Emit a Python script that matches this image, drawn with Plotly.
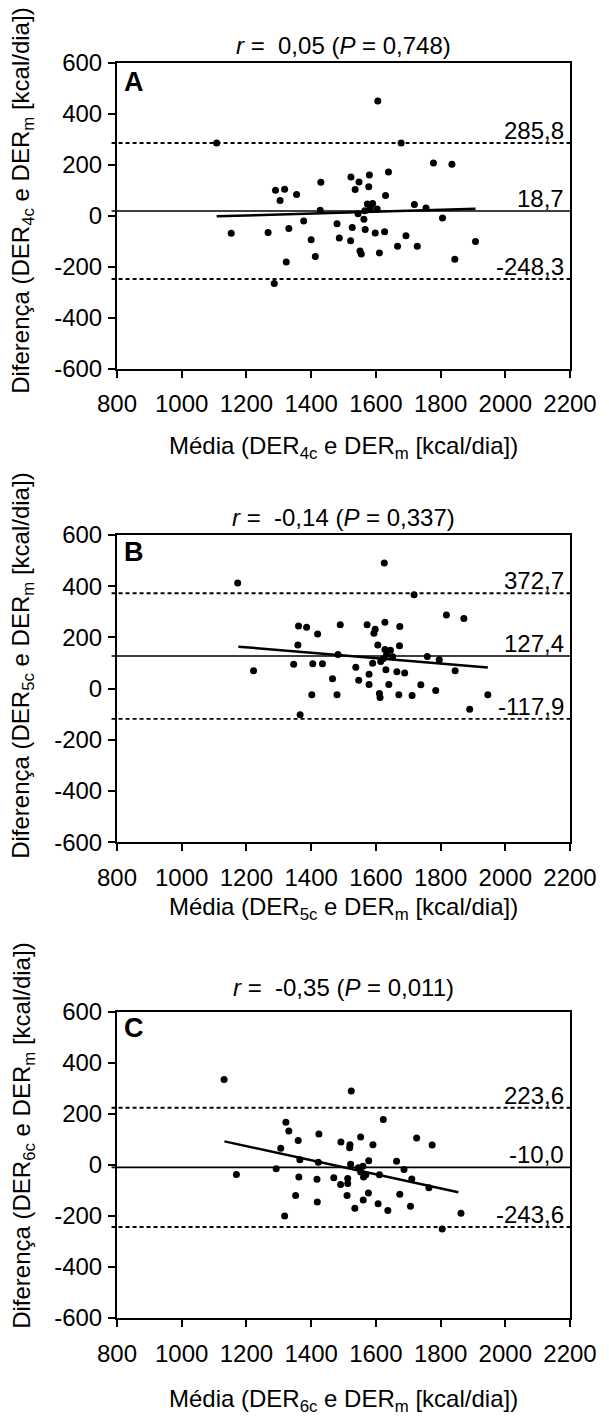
import plotly.graph_objects as go
from plotly.subplots import make_subplots

# ---- Panel A: DER4c vs DERm ----
mean_a = [1606, 1108, 1678, 1778, 1835, 1639, 1523, 1580, 1548, 1430, 1578, 1536, 1290,
          1318, 1355, 1304, 1630, 1574, 1590, 1604, 1583, 1719, 1755, 1428, 1566, 1545,
          1806, 1563, 1377, 1480, 1527, 1331, 1567, 1153, 1267, 1598, 1627, 1693, 1400,
          1487, 1522, 1908, 1667, 1728, 1551, 1555, 1611, 1413, 1323, 1844, 1286]
diff_a = [451, 286, 286, 207, 202, 172, 152, 160, 133, 132, 114, 103, 100,
          104, 84, 60, 80, 46, 48, 27, 31, 44, 31, 22, 20, 8,
          -9, -14, -20, -31, -46, -50, -54, -69, -66, -68, -63, -78, -94,
          -87, -98, -101, -120, -120, -138, -150, -146, -160, -181, -171, -266]
fit_a_x = [1108, 1908]
fit_a_y = [-2, 28]
bias_a = 18.7
loa_a = [285.8, -248.3]
r_a, p_a = "0,05", "0,748"

# ---- Panel B: DER5c vs DERm ----
mean_b = [1626, 1173, 1718, 1818, 1872, 1628, 1361, 1386, 1490, 1573, 1598, 1594, 1674,
          1420, 1359, 1606, 1673, 1628, 1645, 1633, 1652, 1483, 1759, 1796, 1622, 1615,
          1590, 1346, 1405, 1435, 1538, 1631, 1222, 1665, 1689, 1845, 1579, 1466, 1547,
          1579, 1640, 1739, 1785, 1402, 1480, 1611, 1613, 1671, 1712, 1946, 1890, 1366]
diff_b = [491, 413, 367, 288, 274, 259, 245, 240, 250, 250, 232, 216, 243,
          213, 170, 170, 168, 153, 150, 133, 125, 133, 126, 113, 117, 106,
          99, 95, 97, 97, 84, 74, 70, 66, 61, 70, 56, 39, 33,
          16, 16, 15, -7, -24, -24, -19, -35, -24, -27, -24, -80, -102]
fit_b_x = [1175, 1946]
fit_b_y = [164, 83]
bias_b = 127.4
loa_b = [372.7, -117.9]
r_b, p_b = "-0,14", "0,337"

# ---- Panel C: DER6c vs DERm ----
mean_c = [1131, 1524, 1623, 1322, 1331, 1424, 1360, 1492, 1553, 1520, 1519, 1591, 1726,
          1774, 1306, 1365, 1422, 1522, 1578, 1664, 1292, 1169, 1687, 1546, 1560, 1553,
          1569, 1562, 1611, 1362, 1418, 1470, 1513, 1711, 1491, 1513, 1764, 1352, 1511,
          1577, 1674, 1419, 1561, 1607, 1535, 1637, 1707, 1318, 1863, 1805]
diff_c = [334, 289, 178, 167, 133, 121, 95, 90, 109, 79, 67, 79, 105,
          78, 65, 20, 10, 2, 16, 14, -15, -38, -18, -11, -5, -28,
          -39, -48, -39, -48, -56, -51, -53, -55, -77, -73, -90, -120, -120,
          -110, -115, -146, -138, -152, -170, -179, -162, -200, -190, -251]
fit_c_x = [1132, 1855]
fit_c_y = [92, -107]
bias_c = -10.0
loa_c = [223.6, -243.6]
r_c, p_c = "-0,35", "0,011"

panel_letters = ["A", "B", "C"]
method_subs = ["4c", "5c", "6c"]
x_ticks = [800, 1000, 1200, 1400, 1600, 1800, 2000, 2200]
y_ticks = [600, 400, 200, 0, -200, -400, -600]
y_tick_text = ["600", "400", "200", "0", "-200", "-400", "-600"]

panels = [
    (mean_a, diff_a, fit_a_x, fit_a_y, bias_a, loa_a, r_a, p_a),
    (mean_b, diff_b, fit_b_x, fit_b_y, bias_b, loa_b, r_b, p_b),
    (mean_c, diff_c, fit_c_x, fit_c_y, bias_c, loa_c, r_c, p_c),
]

W, H = 609, 1417
ML, MR, MT, MB = 117, 30, 63, 99
plot_h = H - MT - MB
bottom_px = H - MB

def dom(top_px, bot_px):
    return [(bottom_px - bot_px) / plot_h, (bottom_px - top_px) / plot_h]

# pixel rows of each panel's plot area (top, bottom)
rows_px = [(63, 368.6), (535, 842.3), (1011.7, 1318)]
xtitle_px = [448, 908, 1400]
title_px = [46, 517, 987]
letter_px = [82, 552, 1028]
ytitle_center_px = [200, 665, 1135]

FONT = "Liberation Sans, Arial, sans-serif"
FS = 24
fig = make_subplots(rows=3, cols=1)

def fmt(v):
    return f"{v:.1f}".replace(".", ",")

def ypaper(px):
    return (bottom_px - px) / plot_h

for i, (mx, dy, fx, fy, bias, loa, r, p) in enumerate(panels):
    row = i + 1
    fig.add_trace(go.Scatter(x=mx, y=dy, mode="markers",
                             marker=dict(size=7, color="black"),
                             showlegend=False, hoverinfo="skip"), row=row, col=1)
    fig.add_trace(go.Scatter(x=fx, y=fy, mode="lines",
                             line=dict(color="black", width=2.5),
                             showlegend=False, hoverinfo="skip"), row=row, col=1)
    sfx = "" if row == 1 else str(row)
    xr, yr = "x" + sfx, "y" + sfx
    # mean difference
    fig.add_shape(type="line", xref=xr + " domain", yref=yr, x0=-0.012, x1=1,
                  y0=bias, y1=bias, line=dict(color="black", width=1.6))
    # limits of agreement
    for lim in loa:
        fig.add_shape(type="line", xref=xr + " domain", yref=yr, x0=-0.012, x1=1,
                      y0=lim, y1=lim, line=dict(color="black", width=1.9, dash="4px,3px"))
    for v in [loa[0], bias, loa[1]]:
        fig.add_annotation(xref=xr + " domain", yref=yr, x=1, y=v, text=fmt(v),
                           xanchor="right", yanchor="bottom", xshift=-4, yshift=-3,
                           showarrow=False, font=dict(family=FONT, size=FS, color="black"))
    # correlation title
    fig.add_annotation(xref="paper", yref="paper", x=0.5, y=ypaper(title_px[i]),
                       text=f"<i>r</i> =  {r} (<i>P</i> = {p})", showarrow=False,
                       xanchor="center", yanchor="middle",
                       font=dict(family=FONT, size=FS, color="black"))
    # panel letter
    fig.add_annotation(xref=xr + " domain", yref="paper", x=0.012, y=ypaper(letter_px[i]),
                       text=f"<b>{panel_letters[i]}</b>", showarrow=False,
                       xanchor="left", yanchor="middle",
                       font=dict(family=FONT, size=27, color="black"))
    # x title
    sub = method_subs[i]
    fig.add_annotation(xref="paper", yref="paper", x=0.5, y=ypaper(xtitle_px[i]),
                       text=f"Média (DER<sub>{sub}</sub> e DER<sub>m</sub> [kcal/dia])",
                       showarrow=False, xanchor="center", yanchor="middle",
                       font=dict(family=FONT, size=FS, color="black"))
    # y title
    fig.add_annotation(xref="paper", yref="paper", x=(21 - ML) / (W - ML - MR),
                       y=ypaper(ytitle_center_px[i]), textangle=-90,
                       text=f"Diferença (DER<sub>{sub}</sub> e DER<sub>m</sub> [kcal/dia])",
                       showarrow=False, xanchor="center", yanchor="middle",
                       font=dict(family=FONT, size=FS, color="black"))

    axis_common = dict(showline=True, linecolor="black", linewidth=2, mirror=True,
                       ticks="outside", ticklen=7, tickwidth=2, tickcolor="black",
                       showgrid=False, zeroline=False,
                       tickfont=dict(family=FONT, size=FS, color="black"))
    fig.update_xaxes(range=[800, 2200], tickvals=x_ticks, ticklabelstandoff=6,
                     domain=[0, 1], row=row, col=1, **axis_common)
    fig.update_yaxes(range=[-600, 600], tickvals=y_ticks, ticktext=y_tick_text,
                     ticklabelstandoff=1, domain=dom(*rows_px[i]),
                     row=row, col=1, **axis_common)

fig.update_layout(width=W, height=H, margin=dict(l=ML, r=MR, t=MT, b=MB),
                  plot_bgcolor="white", paper_bgcolor="white",
                  font=dict(family=FONT, color="black"))

fig.write_html("out.html")
